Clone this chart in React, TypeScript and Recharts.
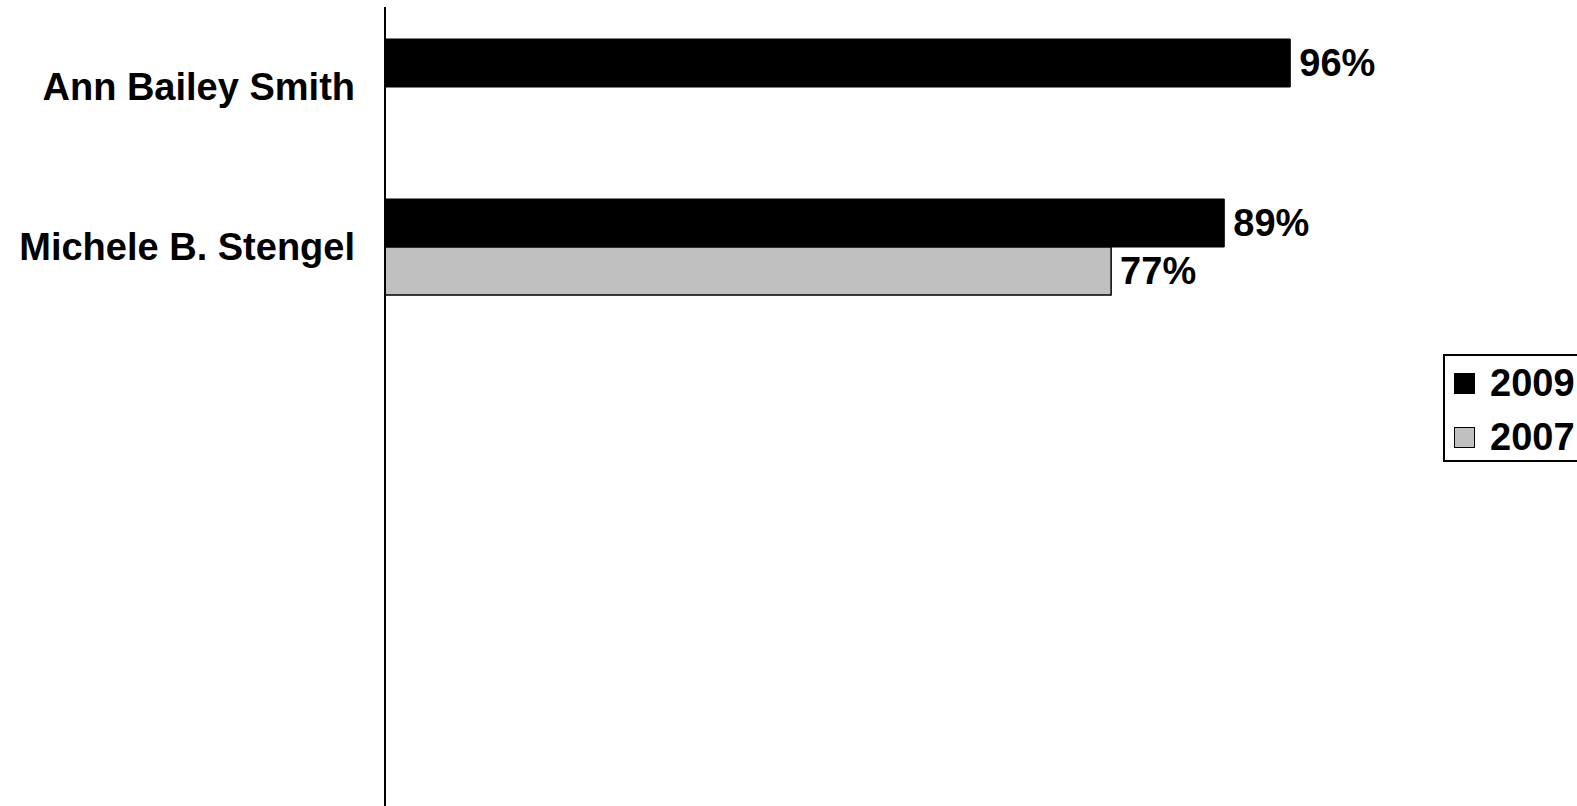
import React from 'react';
import { BarChart, Bar, XAxis, YAxis, Legend, LabelList } from 'recharts';

const categoryKeys = ['c1', 'c2', 'c3', 'c4', 'c5'];
const categoryLabels = ['Ann Bailey Smith', 'Michele B. Stengel', '', '', ''];
const values2009: (number | null)[] = [96, 89, null, null, null];
const values2007: (number | null)[] = [null, 77, null, null, null];
const seriesNames = ['2009', '2007'];
const seriesColors = ['#000000', '#C0C0C0'];

const data = categoryKeys.map((k, i) => ({
  key: k,
  y2009: values2009[i],
  y2007: values2007[i],
}));

const FONT = '"Liberation Sans", Arial, sans-serif';

const fmt = (v: any) => (v == null ? '' : `${v}%`);

const LegendBox = () => (
  <div
    style={{
      position: 'relative',
      width: 170,
      height: 108,
      border: '2px solid #000',
      boxSizing: 'border-box',
      background: '#fff',
      fontFamily: FONT,
      fontWeight: 'bold',
      fontSize: 38,
      color: '#000',
    }}
  >
    {seriesNames.map((n, i) => (
      <div
        key={n}
        style={{
          position: 'absolute',
          left: 9,
          top: i === 0 ? 2 : 56,
          height: 50,
          display: 'flex',
          alignItems: 'center',
        }}
      >
        <div
          style={{
            width: 21,
            height: 21,
            background: seriesColors[i],
            border: '1.5px solid #000',
            boxSizing: 'border-box',
            marginRight: 15,
          }}
        />
        <span style={{ lineHeight: '50px' }}>{n}</span>
      </div>
    ))}
  </div>
);

export default function App() {
  return (
    <div
      style={{
        position: 'absolute',
        left: 0,
        top: 0,
        width: 1577,
        height: 806,
        overflow: 'hidden',
        background: '#fff',
      }}
    >
      <BarChart
        width={1577}
        height={830}
        data={data}
        layout="vertical"
        margin={{ top: 7, right: 115, bottom: 23, left: 0 }}
        barCategoryGap="20%"
        barGap={0}
      >
        <XAxis type="number" domain={[0, 100]} hide />
        <YAxis
          type="category"
          dataKey="key"
          width={385}
          axisLine={{ stroke: '#000', strokeWidth: 2 }}
          tickLine={false}
          tickSize={0}
          tickMargin={30}
          interval={0}
          tickFormatter={(v: string) => categoryLabels[categoryKeys.indexOf(v)] ?? ''}
          tick={{ fontSize: 38, fontWeight: 'bold', fill: '#000', fontFamily: FONT }}
        />
        <Legend
          layout="vertical"
          align="right"
          verticalAlign="middle"
          content={() => <LegendBox />}
          wrapperStyle={{ position: 'absolute', left: 1443, top: 354, width: 134, height: 108 }}
        />
        <Bar
          dataKey="y2009"
          name={seriesNames[0]}
          fill={seriesColors[0]}
          stroke="#000"
          strokeWidth={1}
          isAnimationActive={false}
        >
          <LabelList
            dataKey="y2009"
            position="right"
            offset={9}
            formatter={fmt}
            style={{ fontSize: 38, fontWeight: 'bold', fill: '#000', fontFamily: FONT }}
          />
        </Bar>
        <Bar
          dataKey="y2007"
          name={seriesNames[1]}
          fill={seriesColors[1]}
          stroke="#000"
          strokeWidth={1.5}
          isAnimationActive={false}
        >
          <LabelList
            dataKey="y2007"
            position="right"
            offset={9}
            formatter={fmt}
            style={{ fontSize: 38, fontWeight: 'bold', fill: '#000', fontFamily: FONT }}
          />
        </Bar>
      </BarChart>
    </div>
  );
}
